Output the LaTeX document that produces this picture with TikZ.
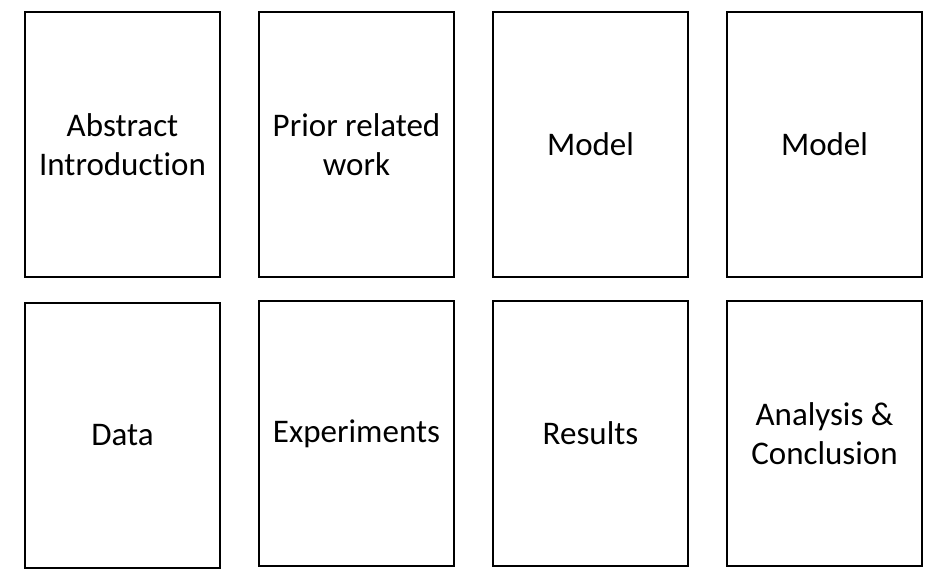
\documentclass[tikz,border=0pt]{standalone}
\usepackage{fontspec}
\setmainfont[Ligatures=NoCommon]{Carlito}
\usetikzlibrary{positioning}
\begin{document}
\begin{tikzpicture}[x=1pt,y=-1pt,
  card/.style={draw,line width=2.4pt,minimum width=195pt,minimum height=265pt,inner sep=0pt,align=center,font=\fontsize{33}{39}\selectfont}]
\useasboundingbox (0,0) rectangle (941,584);
% top row
\node[card] (abstract) at (122.5,144.5) {Abstract\\Introduction};
\node[card,right=36.6pt of abstract] (prior) {Prior related\\work};
\node[card,right=36.6pt of prior] (modelA) {Model};
\node[card,right=36.6pt of modelA] (modelB) {Model};
% bottom row
\node[card] (data) at (122.5,435.5) {Data};
\node[card,below=21.6pt of prior] (experiments) {Experiments};
\node[card,below=21.6pt of modelA] (results) {Results};
\node[card,below=21.6pt of modelB] (analysis) {Analysis \&\\Conclusion};
\end{tikzpicture}
\end{document}
